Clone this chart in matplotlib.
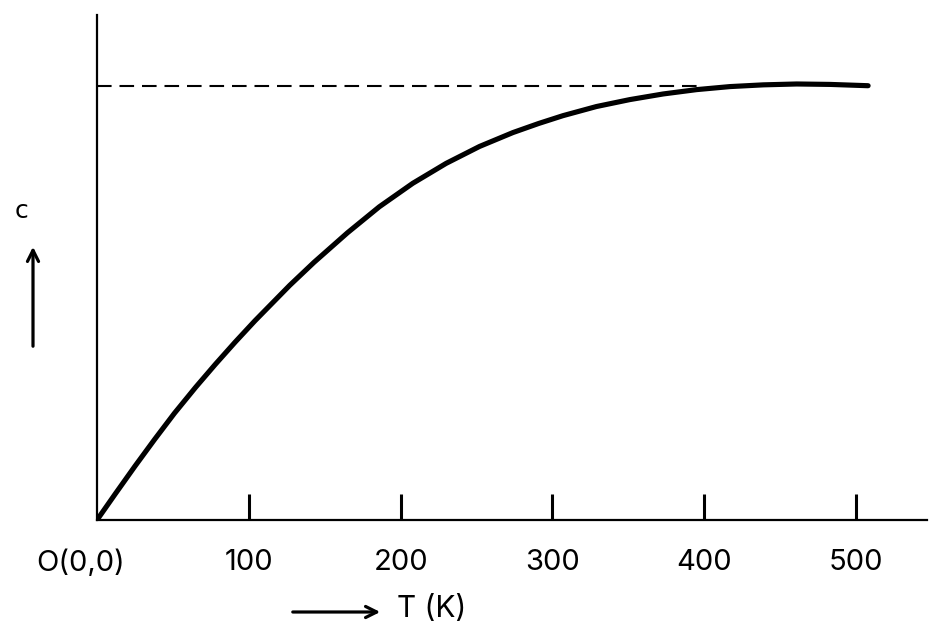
import matplotlib.pyplot as plt
from matplotlib.patches import FancyArrowPatch

# curve
temps = [0, 12, 25, 38, 51, 65, 78, 91, 104, 127, 143, 165, 186, 208, 230, 252, 274,
         291, 307, 329, 351, 373, 395, 417, 439, 461, 483, 508]
c_vals = [0, 0.060, 0.124, 0.186, 0.246, 0.306, 0.359, 0.410, 0.459, 0.541, 0.594, 0.662,
          0.722, 0.776, 0.822, 0.861, 0.893, 0.914, 0.932, 0.953, 0.969, 0.982, 0.992,
          0.999, 1.003, 1.005, 1.004, 1.001]
c_limit = 1.0
dash_end = 395
tick_vals = [100, 200, 300, 400, 500]
tick_labels = ["100", "200", "300", "400", "500"]

plt.rcParams['font.family'] = ['Inter', 'DejaVu Sans']

W, H = 942, 639
fig = plt.figure(figsize=(W / 100, H / 100), dpi=100)
ax = fig.add_axes([97 / W, 1 - 520 / H, (927 - 97) / W, (520 - 15) / H])

ax.plot(temps, c_vals, color="black", lw=3.7, solid_capstyle="round",
        solid_joinstyle="round")
ax.plot([0, dash_end], [c_limit, c_limit], color="black", lw=1.5, dashes=(7, 3.8))

ax.set_xlim(0, 546.8)
ax.set_ylim(0, 1.164)
for s in ["top", "right"]:
    ax.spines[s].set_visible(False)
ax.spines["left"].set_linewidth(1.6)
ax.spines["bottom"].set_linewidth(1.6)
ax.set_yticks([])
ax.set_xticks(tick_vals)
ax.set_xticklabels(tick_labels, fontsize=21)
ax.tick_params(axis="x", direction="in", length=19, width=2.2, pad=21)

# origin label
ax.annotate("O(0,0)", xy=(0, 0), xycoords="data", xytext=(-12, -21),
            textcoords="offset points", ha="center", va="top", fontsize=21)

# axis arrows and labels
fig.patches.append(FancyArrowPatch(
    (290 / W, 1 - 612 / H), (383 / W, 1 - 612 / H), transform=fig.transFigure,
    arrowstyle="->,head_length=8,head_width=4", lw=2.3, color="black"))
fig.text(397 / W, 1 - 609 / H, "T (K)", fontsize=21.5, ha="left", va="center")

fig.patches.append(FancyArrowPatch(
    (33 / W, 1 - 349 / H), (33 / W, 1 - 244 / H), transform=fig.transFigure,
    arrowstyle="->,head_length=8,head_width=4", lw=2.3, color="black"))
fig.text(22 / W, 1 - 211 / H, "c", fontsize=18, ha="center", va="center",
         family="DejaVu Sans")

fig.savefig("out.png", dpi=100)
